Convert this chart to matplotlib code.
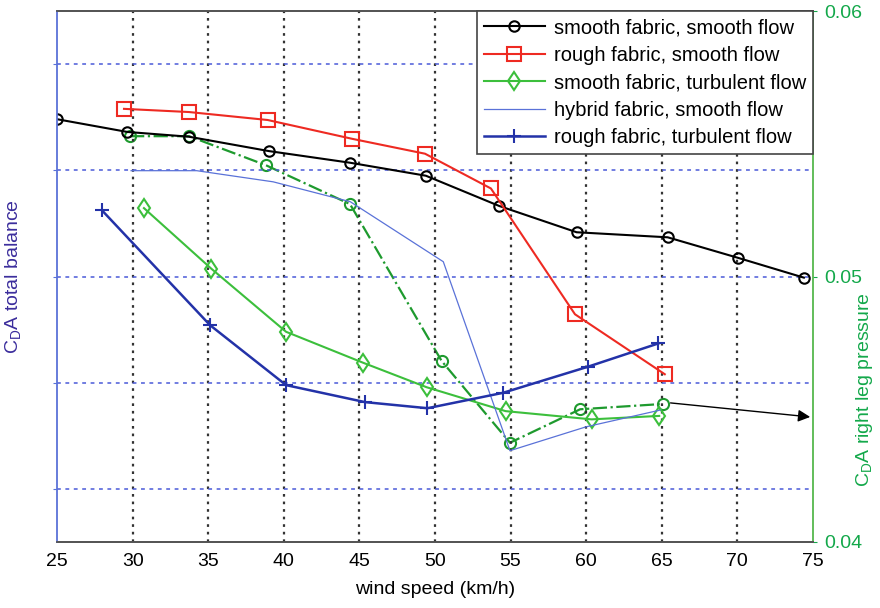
import matplotlib
matplotlib.use("Agg")
import matplotlib.pyplot as plt

plt.rcParams["font.family"] = ["Liberation Sans", "DejaVu Sans"]

# values (right axis units)
smooth_smooth_x = [25, 29.65, 33.73, 39.0, 44.38, 49.4, 54.25, 59.37, 65.39, 70.02, 74.4]
smooth_smooth_y = [0.05593, 0.05545, 0.05527, 0.05473, 0.05429, 0.0538, 0.05266, 0.05167, 0.05148, 0.05071, 0.04996]

rough_smooth_x = [29.43, 33.73, 38.93, 44.53, 49.34, 53.7, 59.26, 65.2]
rough_smooth_y = [0.05632, 0.0562, 0.0559, 0.05519, 0.05463, 0.05332, 0.04858, 0.04632]

smooth_turb_x = [30.75, 35.2, 40.15, 45.26, 49.45, 54.67, 60.36, 64.83]
smooth_turb_y = [0.05258, 0.0503, 0.04792, 0.04675, 0.04583, 0.04493, 0.04462, 0.04475]

hybrid_smooth_x = [29.9, 34.24, 39.3, 44.4, 50.55, 54.96, 60.0, 64.9]
hybrid_smooth_y = [0.05399, 0.05399, 0.05357, 0.05282, 0.05056, 0.04344, 0.04434, 0.04497]

rough_turb_x = [27.95, 35.12, 40.15, 45.37, 49.5, 54.5, 60.1, 64.77]
rough_turb_y = [0.05251, 0.04817, 0.04591, 0.04527, 0.04504, 0.04562, 0.0466, 0.04748]

right_leg_x = [29.83, 33.73, 38.8, 44.38, 50.44, 54.96, 59.6, 65.06]
right_leg_y = [0.05529, 0.05529, 0.0542, 0.05273, 0.04682, 0.04374, 0.045, 0.0452]

arrow_start = (65.4, 0.04525)
arrow_end = (75, 0.0447)

x_ticks = [25, 30, 35, 40, 45, 50, 55, 60, 65, 70, 75]
left_ticks = [0.042, 0.046, 0.050, 0.054, 0.058]
right_ticks = [0.04, 0.05, 0.06]

green_axis = "#13a84a"
left_color = "#3b2d9c"

fig = plt.figure(figsize=(8.8, 6.08), dpi=100)
ax = fig.add_axes([0.0648, 0.1086, 0.859, 0.873])
ax2 = ax.twinx()

ax.plot(smooth_smooth_x, smooth_smooth_y, color="black", lw=1.5, marker="o",
        ms=7.5, mfc="none", mew=1.5, label="smooth fabric, smooth flow")
ax.plot(rough_smooth_x, rough_smooth_y, color="#ee2a22", lw=1.5, marker="s",
        ms=9.5, mfc="none", mew=1.5, label="rough fabric, smooth flow")
ax.plot(smooth_turb_x, smooth_turb_y, color="#3cbf3c", lw=1.5, marker="d",
        ms=9.5, mfc="none", mew=1.5, label="smooth fabric, turbulent flow")
ax.plot(hybrid_smooth_x, hybrid_smooth_y, color="#5a72d8", lw=0.9,
        label="hybrid fabric, smooth flow")
ax.plot(rough_turb_x, rough_turb_y, color="#2332a8", lw=1.8, marker="+",
        ms=10, mew=1.5, label="rough fabric, turbulent flow")

ax2.plot(right_leg_x, right_leg_y, color="#1e9a2e", lw=1.6, ls="-.",
         marker="o", ms=8, mfc="none", mew=1.5)
ax2.annotate("", xy=arrow_end, xytext=arrow_start,
             arrowprops=dict(arrowstyle="-|>", color="black", lw=1.0,
                             mutation_scale=18))

for a in (ax, ax2):
    a.set_xlim(25, 75)
    a.set_ylim(0.04, 0.06)

ax.set_xticks(x_ticks)
ax.set_yticks(left_ticks)
ax.set_yticklabels([])
ax.tick_params(axis="y", length=3, color="#5a72d8")
ax.tick_params(axis="x", length=0, labelsize=14, pad=8)

for xv in x_ticks[1:-1]:
    ax.axvline(xv, color="#333333", ls=(0, (1.2, 2.2)), lw=1.6, zorder=0)
for yv in left_ticks:
    ax.axhline(yv, color="#4a5ad8", ls=(0, (2.5, 3)), lw=1.1, zorder=0)

ax2.set_yticks(right_ticks)
ax2.set_yticklabels(["0.04", "0.05", "0.06"])
ax2.tick_params(axis="y", colors=green_axis, labelsize=14, length=3, pad=5)

ax.spines["left"].set_color("#5a72d8")
ax.spines["left"].set_linewidth(1.3)
ax2.spines["right"].set_color("#55b84d")
ax2.spines["right"].set_linewidth(1.3)
for a in (ax, ax2):
    a.spines["top"].set_color("#555555")
    a.spines["top"].set_linewidth(1.3)
    a.spines["bottom"].set_color("#555555")
    a.spines["bottom"].set_linewidth(1.3)
ax2.spines["left"].set_visible(False)
ax.spines["right"].set_visible(False)

ax.set_xlabel("wind speed (km/h)", fontsize=14, labelpad=8)
ax.set_ylabel("C$_\\mathregular{D}$A total balance", fontsize=14,
              color=left_color, labelpad=17)
ax2.set_ylabel("C$_\\mathregular{D}$A right leg pressure", fontsize=14,
               color=green_axis, va="center", ha="center")
ax2.yaxis.set_label_coords(1.068, 0.287)

leg = ax.legend(loc="upper right", fontsize=14.5, handlelength=3.0,
                fancybox=False, framealpha=1, edgecolor="#444444",
                borderaxespad=0, labelspacing=0.42, borderpad=0.35,
                handletextpad=0.45)
leg.get_frame().set_linewidth(1.2)
ax.set_zorder(ax2.get_zorder() + 1)
ax.patch.set_visible(False)

fig.savefig("out.png", dpi=100)
